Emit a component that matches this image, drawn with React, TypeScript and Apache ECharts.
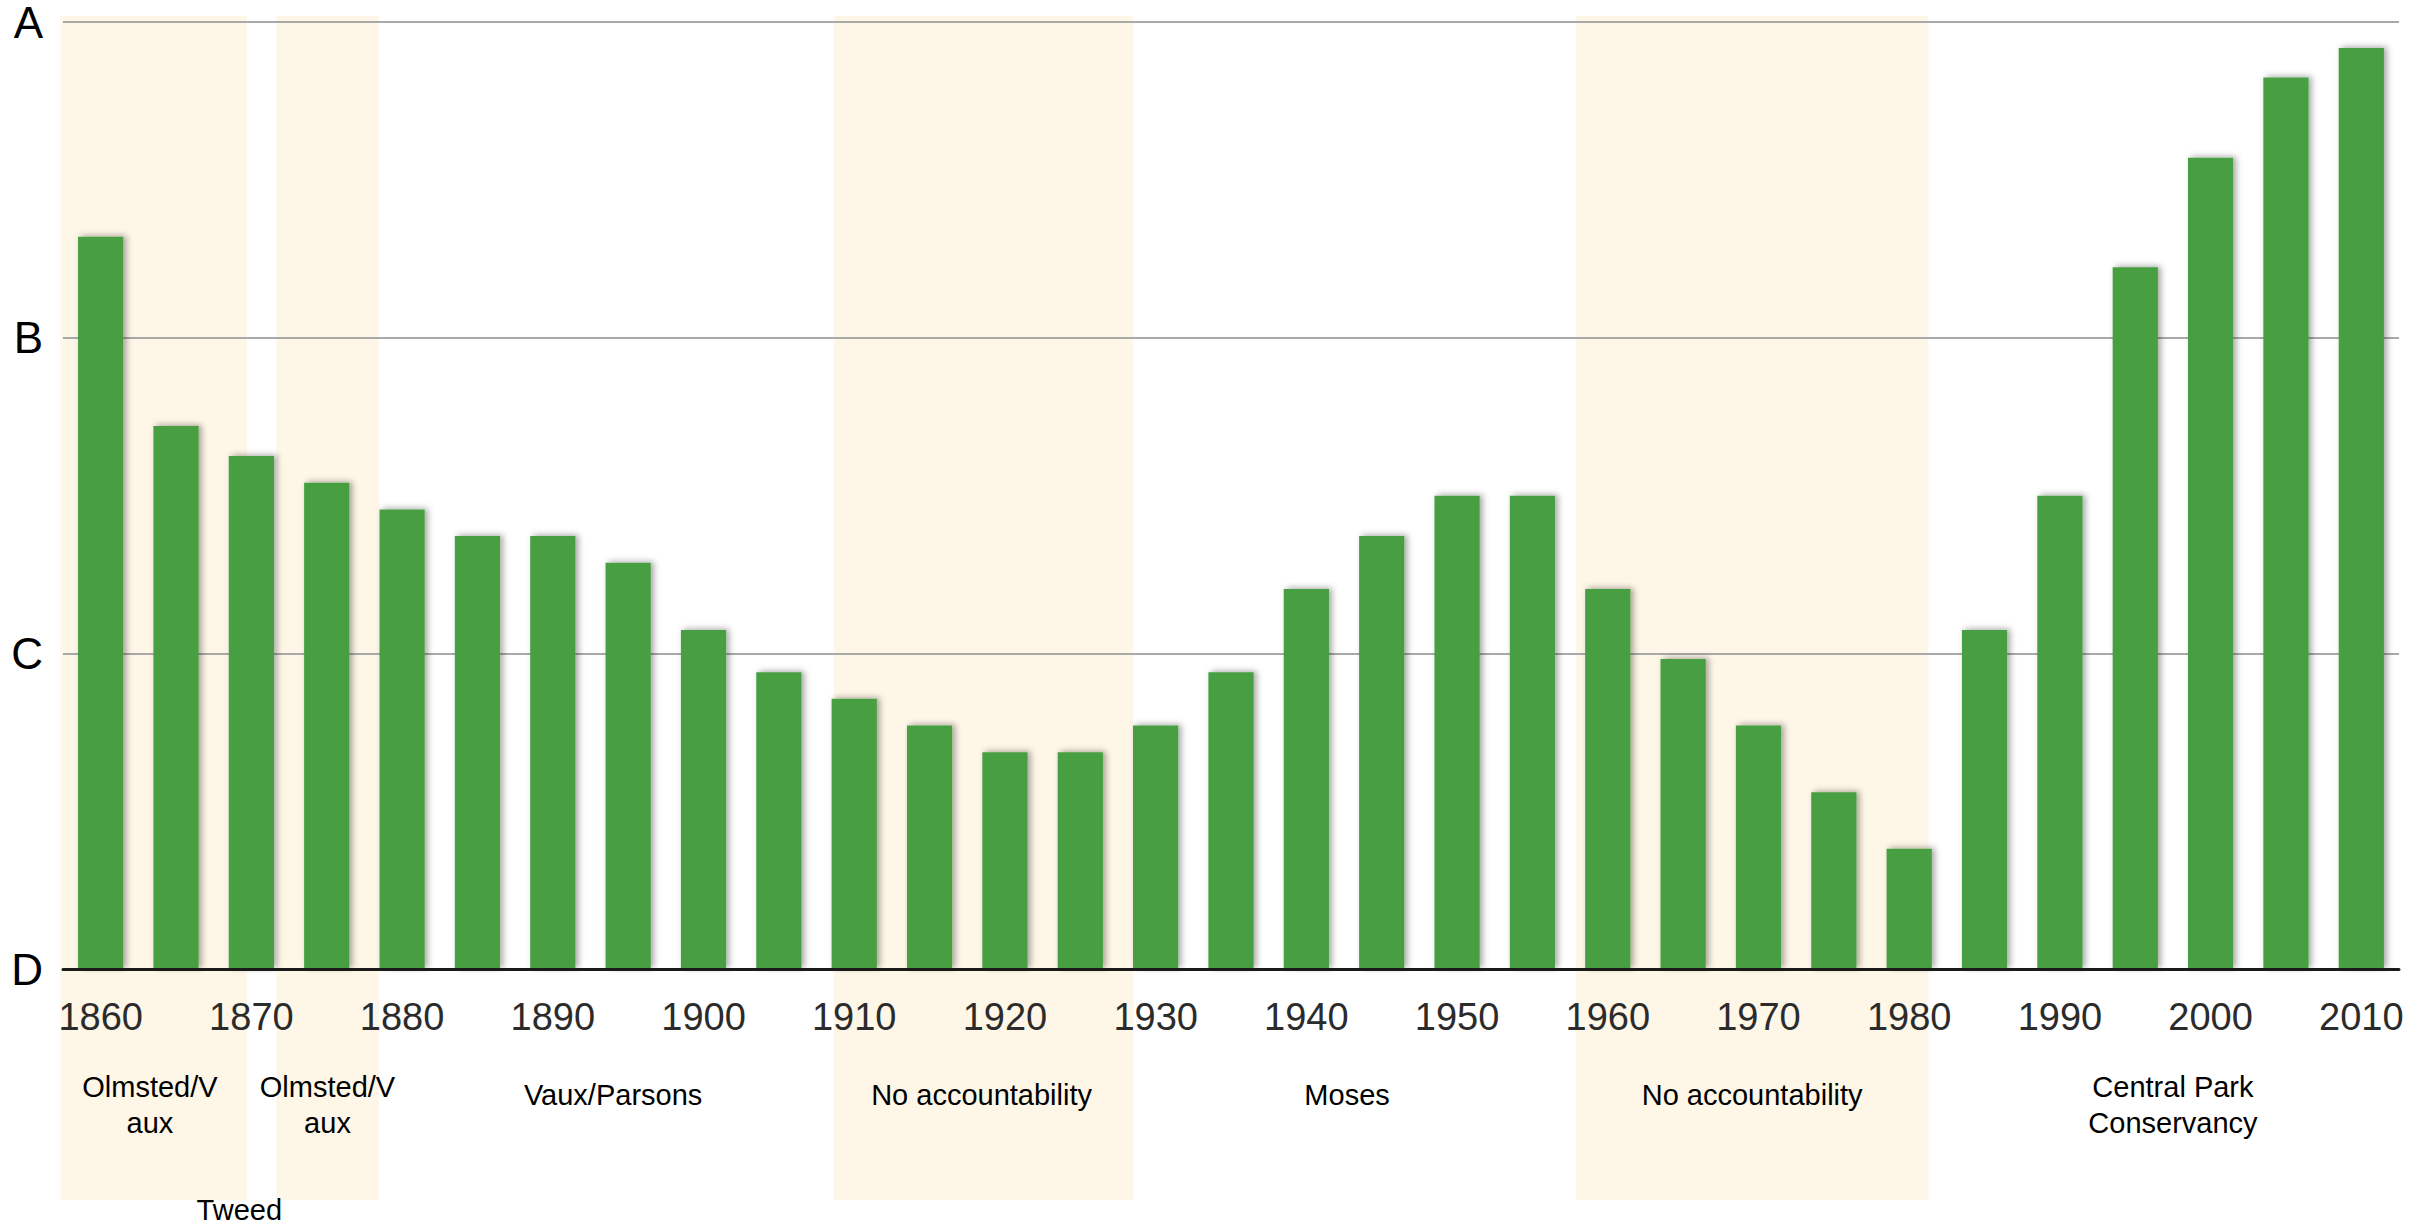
import React, { useEffect, useRef } from 'react';
import * as echarts from 'echarts';

const years = [
  '1860', '1865', '1870', '1875', '1880', '1885', '1890', '1895', '1900', '1905',
  '1910', '1915', '1920', '1925', '1930', '1935', '1940', '1945', '1950', '1955',
  '1960', '1965', '1970', '1975', '1980', '1985', '1990', '1995', '2000', '2005', '2010',
];
// grade scale: D = 0, C = 1, B = 2, A = 3
const grades = [
  2.32, 1.72, 1.625, 1.54, 1.456, 1.372, 1.372, 1.287, 1.074, 0.94,
  0.856, 0.771, 0.687, 0.687, 0.771, 0.94, 1.204, 1.372, 1.499, 1.499,
  1.204, 0.982, 0.771, 0.56, 0.381, 1.074, 1.499, 2.223, 2.57, 2.824, 2.918,
];
const gradeLabels = ['D', 'C', 'B', 'A'];

const bandStarts = [1857.35, 1871.66, 1908.64, 1957.88];
const bandEnds = [1869.71, 1878.46, 1928.52, 1981.27];

const periodLabels = [
  'Olmsted/V\naux', 'Olmsted/V\naux', 'Vaux/Parsons', 'No accountability',
  'Moses', 'No accountability', 'Central Park\nConservancy', 'Tweed',
];
const periodYears = [1863.27, 1875.05, 1894.0, 1918.45, 1942.7, 1969.58, 1997.5, 1869.2];
const periodRow = [0, 0, 0, 0, 0, 0, 0, 1]; // 0 = main row, 1 = lower row

const FONT = '"Liberation Sans", Arial, Helvetica, sans-serif';

export default function App() {
  const ref = useRef<HTMLDivElement>(null);

  useEffect(() => {
    if (!ref.current) return;
    const chart = echarts.init(ref.current, undefined, { renderer: 'svg' });
    const yearMin = Number(years[0]) - 2.5;
    const yearMax = Number(years[years.length - 1]) + 2.5;

    chart.setOption({
      animation: false,
      backgroundColor: '#ffffff',
      grid: { left: 63, width: 2336, top: 22, bottom: 256, containLabel: false },
      xAxis: [
        {
          type: 'category',
          data: years,
          z: 3,
          axisLine: { show: true, lineStyle: { color: '#1a1a1a', width: 3 } },
          axisTick: { show: false },
          axisLabel: {
            interval: 1,
            color: '#2b2b2b',
            fontSize: 38,
            fontFamily: FONT,
            margin: 29,
          },
          splitLine: { show: false },
        },
        {
          type: 'value',
          show: false,
          min: yearMin,
          max: yearMax,
          splitLine: { show: false },
        },
      ],
      yAxis: {
        type: 'value',
        min: 0,
        max: 3,
        interval: 1,
        z: 1,
        axisLine: { show: false },
        axisTick: { show: false },
        axisLabel: {
          color: '#000000',
          fontSize: 44,
          fontFamily: FONT,
          lineHeight: 32,
          padding: [9, 0, 0, 0],
          margin: 20,
          formatter: (v: number) => gradeLabels[Math.round(v)] ?? '',
        },
        splitLine: { show: true, lineStyle: { color: '#a9a9a9', width: 2 } },
      },
      series: [
        {
          type: 'custom',
          name: 'periods',
          xAxisIndex: 1,
          yAxisIndex: 0,
          z: 0,
          silent: true,
          clip: false,
          encode: { x: [0, 1], y: 2 },
          data: bandStarts.map((s, i) => [s, bandEnds[i], 0]),
          renderItem: (params: any, api: any) => {
            const p0 = api.coord([api.value(0), 3]);
            const p1 = api.coord([api.value(1), 0]);
            const top = p0[1] - 6;
            const bottom = p1[1] + 231;
            return {
              type: 'rect',
              shape: { x: p0[0], y: top, width: p1[0] - p0[0], height: bottom - top },
              style: { fill: '#fef6e7' },
            };
          },
        },
        {
          type: 'bar',
          name: 'grade',
          xAxisIndex: 0,
          yAxisIndex: 0,
          z: 2,
          data: grades,
          barCategoryGap: '40%',
          itemStyle: {
            color: '#469f42',
            shadowColor: 'rgba(0,0,0,0.35)',
            shadowBlur: 6,
            shadowOffsetX: 3,
            shadowOffsetY: -1,
          },
        },
        {
          type: 'custom',
          name: 'labels',
          xAxisIndex: 1,
          yAxisIndex: 0,
          z: 4,
          silent: true,
          clip: false,
          encode: { x: 0, y: 1 },
          data: periodYears.map((y) => [y, 0]),
          renderItem: (params: any, api: any) => {
            const i = params.dataIndex;
            const p = api.coord([api.value(0), 0]);
            const text = periodLabels[i];
            const lines = text.split('\n').length;
            let y = p[1] + (lines > 1 ? 136 : 126);
            if (periodRow[i] === 1) y = p[1] + 241;
            return {
              type: 'text',
              x: p[0],
              y,
              style: {
                text,
                fill: '#000000',
                fontSize: 29,
                fontFamily: FONT,
                align: 'center',
                verticalAlign: 'middle',
                lineHeight: 36,
              },
            };
          },
        },
      ],
    });

    return () => chart.dispose();
  }, []);

  return (
    <div
      ref={ref}
      style={{ position: 'fixed', left: 0, top: 0, width: 2434, height: 1225 }}
    />
  );
}
